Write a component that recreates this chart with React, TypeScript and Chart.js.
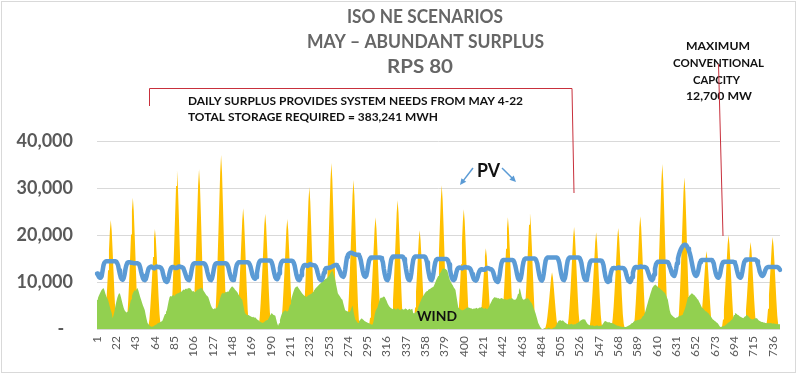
import { useEffect, useRef } from "react";
import { Chart, registerables } from "chart.js";

Chart.register(...registerables);

// Hour-of-month categories (May: 31 days x 24 h)
const HOURS: string[] = Array.from({ length: 744 }, (_, i) => String(i + 1));
const TICK_EVERY = 21;

const TITLE_LINES = ["ISO NE SCENARIOS", "MAY – ABUNDANT SURPLUS", "RPS 80"];
const NOTE_LINES = [
  "DAILY SURPLUS PROVIDES SYSTEM NEEDS FROM MAY 4-22",
  "TOTAL STORAGE REQUIRED = 383,241 MWH",
];
const CAP_LINES = ["MAXIMUM", "CONVENTIONAL", "CAPCITY", "12,700 MW"];

// PV output, MW (one row per day, 24 hours)
const PV_MW: number[] = [
  0,0,0,0,0,0,0,0,700,2300,5100,8600,12500,16700,20900,23200,20900,16700,12100,7400,3500,1200,200,0,
  0,0,0,0,0,0,0,0,800,2800,6100,10300,15100,20100,25100,27900,25100,20100,14500,8900,4200,1400,300,0,
  0,0,0,0,0,0,0,0,600,2100,4700,7900,11500,15300,19200,21300,19200,15300,11100,6800,3200,1100,200,0,
  0,0,0,0,0,0,0,0,1000,3400,7400,12500,18300,24300,30400,33800,30400,24300,17600,10800,5100,1700,300,0,
  0,0,0,0,0,0,0,0,1000,3400,7500,12600,18400,24500,30600,34000,30600,24500,17700,10900,5100,1700,300,0,
  0,0,0,0,0,0,0,0,1100,3700,8100,13700,20000,26600,33300,37000,33300,26600,19200,11800,5600,1900,400,0,
  0,0,0,0,0,0,0,0,800,2600,5700,9500,13900,18500,23100,25700,23100,18500,13400,8200,3900,1300,300,0,
  0,0,0,0,0,0,0,0,700,2500,5400,9100,13200,17600,22100,24500,22100,17600,12700,7800,3700,1200,200,0,
  0,0,0,0,0,0,0,0,700,2300,5100,8700,12600,16800,21100,23400,21100,16800,12200,7500,3500,1200,200,0,
  0,0,0,0,0,0,0,0,900,3000,6600,11200,16300,21700,27200,30200,27200,21700,15700,9700,4500,1500,300,0,
  0,0,0,0,0,0,0,0,1100,3500,7800,13100,19100,25400,31800,35300,31800,25400,18400,11300,5300,1800,400,0,
  0,0,0,0,0,0,0,0,1000,3200,7000,11700,17100,22800,28500,31700,28500,22800,16500,10100,4800,1600,300,0,
  0,0,0,0,0,0,0,0,700,2400,5200,8800,12900,17100,21400,23800,21400,17100,12400,7600,3600,1200,200,0,
  0,0,0,0,0,0,0,0,800,2700,6000,10100,14800,19700,24700,27400,24700,19700,14200,8800,4100,1400,300,0,
  0,0,0,0,0,0,0,0,600,2100,4600,7800,11300,15100,18900,21000,18900,15100,10900,6700,3200,1100,200,0,
  0,0,0,0,0,0,0,0,900,3100,6700,11300,16500,22000,27500,30600,27500,22000,15900,9800,4600,1500,300,0,
  0,0,0,0,0,0,0,0,800,2600,5600,9400,13800,18400,23000,25500,23000,18400,13300,8200,3800,1300,300,0,
  0,0,0,0,0,0,0,0,500,1700,3800,6400,9300,12400,15500,17200,15500,12400,8900,5500,2600,900,200,0,
  0,0,0,0,0,0,0,0,700,2400,5200,8800,12900,17100,21400,23800,21400,17100,12400,7600,3600,1200,200,0,
  0,0,0,0,0,0,0,0,700,2500,5400,9100,13300,17800,22200,24700,22200,17800,12800,7900,3700,1200,200,0,
  0,0,0,0,0,0,0,0,400,1200,2700,4500,6500,8700,10900,12100,10900,8700,6300,3900,1800,600,100,0,
  0,0,0,0,0,0,0,0,700,2200,4800,8000,11700,15600,19500,21700,19500,15600,11300,6900,3300,1100,200,0,
  0,0,0,0,0,0,0,0,600,2100,4500,7600,11100,14800,18500,20600,18500,14800,10700,6600,3100,1000,200,0,
  0,0,0,0,0,0,0,0,600,2200,4700,8000,11600,15500,19400,21500,19400,15500,11200,6900,3200,1100,200,0,
  0,0,0,0,0,0,0,0,700,2400,5300,8900,13000,17300,21600,24000,21600,17300,12500,7700,3600,1200,200,0,
  0,0,0,0,0,0,0,0,1100,3500,7700,13000,19000,25300,31600,35100,31600,25300,18300,11200,5300,1800,400,0,
  0,0,0,0,0,0,0,0,1000,3200,7100,12000,17400,23300,29100,32300,29100,23300,16800,10300,4800,1600,300,0,
  0,0,0,0,0,0,0,0,500,1700,3700,6100,9000,12000,14900,16600,14900,12000,8600,5300,2500,800,200,0,
  0,0,0,0,0,0,0,0,600,2000,4400,7400,10800,14400,18000,20000,18000,14400,10400,6400,3000,1000,200,0,
  0,0,0,0,0,0,0,0,600,1900,4100,6800,10000,13300,16700,18500,16700,13300,9600,5900,2800,900,200,0,
  0,0,0,0,0,0,0,0,600,2000,4300,7300,10600,14100,17600,19600,17600,14100,10200,6300,2900,1000,200,0,
];

// Wind output, MW
const WIND_MW: number[] = [
  6200,6600,7100,7500,7900,8300,8500,8700,8300,7600,7000,6600,6200,5500,4700,4000,3400,2300,2900,3800,4900,5800,6600,7200,
  7600,7500,6800,6000,5200,4500,4000,3700,3500,3600,3800,4600,5400,6300,7000,7600,8000,8300,8100,8500,8700,8200,7500,6800,
  6200,5600,5000,4500,4000,3000,2100,1300,1000,800,600,500,500,600,700,800,900,1000,1200,1300,1400,1500,1600,1700,
  2200,2700,3200,3600,4000,5000,6000,6800,7000,6900,7100,7300,7000,7200,7500,7400,7700,7600,7800,8000,7900,8200,8400,8300,
  8500,8600,8400,8800,8600,8700,8500,8200,8000,8100,7800,7900,8100,8400,8300,8600,8500,8800,8700,8400,8100,7800,7500,7200,
  7000,6800,6200,5600,5000,4600,4300,4200,4400,4300,4500,4600,5200,5900,6600,7200,7600,7800,7500,7700,7900,7800,8000,7900,
  8300,8600,8900,9100,8900,8700,8400,8200,8000,7700,7300,7000,6700,6400,6200,5200,4200,3400,3200,3000,2900,3000,2800,2700,
  2600,2500,2600,2400,2500,2300,2100,1900,1800,1600,1500,1400,1300,1400,1500,1700,1800,1900,2000,2400,2800,3100,3400,3200,
  3000,2900,2800,2000,1200,700,1200,1900,2600,3200,3500,3700,3900,4000,3800,3700,3900,4500,5200,6000,6800,7500,8100,8600,
  8900,9000,9100,8800,8500,8200,7900,7600,7400,7200,7000,6900,6800,7000,7200,7300,7400,7500,7600,7900,8200,8400,8700,8900,
  9100,9300,9500,9700,9900,10100,10300,10400,10600,10700,10800,11000,11200,11500,11900,12200,12500,11900,11200,10600,9600,8600,7600,7300,
  7000,6700,6400,6200,5400,4700,4000,3900,3800,3700,3600,3600,4000,4600,5000,3800,2800,2000,1800,1500,1300,1600,1900,2100,
  2300,2100,1900,1700,1600,1500,1400,1300,1200,1100,1000,900,1000,1800,3000,3800,4200,4500,5200,5900,6500,6700,6600,6800,
  6900,6800,6400,6000,5500,5100,4800,4600,4400,4300,4200,4400,4300,4100,4200,4400,4300,4100,4000,4200,4300,4100,4200,4400,
  4300,4200,4000,4200,4300,4100,4200,4300,3400,3300,3500,3600,3800,4300,4900,5400,5900,6400,6800,7100,7400,7700,7900,8100,
  8300,8400,8500,8600,8800,8900,9000,9400,9900,10400,10800,11200,11500,11800,12100,12500,12800,12900,12700,12800,12600,12500,11800,11000,
  10300,10000,9600,9300,8900,8600,8300,7000,5800,4600,4400,4200,4100,4000,4000,4100,4200,4300,4500,4600,4600,4500,4400,4400,
  4300,4200,4400,4300,4400,4500,4300,4400,4600,4500,4700,4600,4400,4300,4500,4400,4200,4300,4600,5000,5400,5800,6200,6500,
  6700,6800,6600,6700,6500,6600,6400,6500,6600,6500,6400,6300,6400,6200,6200,6300,6400,6500,6400,6600,6500,6300,6200,6200,
  6400,6800,7500,8200,8700,7800,6900,6400,6200,6300,6500,6400,6600,6500,6300,6000,5700,5500,5000,4400,3900,3400,2700,2000,
  1300,900,500,200,0,0,100,200,100,0,100,300,200,100,0,100,200,300,300,600,1000,1400,1700,1800,
  1900,1700,1800,1800,1600,1400,1300,1100,1000,1000,900,1000,1100,1000,900,1000,1000,1100,1200,1300,1500,1600,1800,1900,
  2000,2100,2000,2000,1600,1300,1000,900,800,800,700,800,700,600,700,700,800,700,600,700,700,700,1000,1300,
  1600,1700,1600,1500,1400,1500,1400,1300,1300,1200,1100,1000,900,800,700,700,600,600,500,500,400,500,400,400,
  500,600,700,800,900,1100,1300,1400,1600,1700,1800,1800,1900,1900,2000,2000,2200,2500,2800,3100,3400,4100,4800,5500,
  6200,6800,7500,8100,8700,9000,9300,9500,9300,9200,9000,8800,8700,8500,8300,8200,8000,7800,7600,7200,6700,6200,5100,4000,
  3300,3000,2800,2600,2500,2300,2400,2500,2600,2700,2800,2800,2900,3000,3500,4000,4600,5300,6100,6800,7000,7200,7400,7600,
  7500,7300,7200,6900,6700,6400,6200,5800,5400,5000,4600,4400,4200,4000,3800,3700,3500,3400,3100,2800,2600,2300,2000,1900,
  1700,1600,1400,1300,1000,700,400,500,500,600,600,700,900,1000,1200,1400,1500,1700,1900,2000,2500,3000,3400,3300,
  3200,3000,2900,2700,2600,2500,2400,2300,2500,2700,2900,3000,2800,2600,2400,2200,2100,2000,2100,2200,2300,2300,2300,2000,
  1800,1700,1600,1500,1500,1400,1400,1300,1300,1200,1300,1200,1200,1300,1200,1100,1200,1100,1100,1000,1100,1000,1000,1000,
];

// System load line, MW
const LOAD_MW: number[] = [
  11800,11500,11100,10900,10900,11200,12300,13500,14100,14300,14400,14400,14400,14400,14400,14400,14400,14400,14400,14400,14400,14300,14000,13500,
  12500,11600,10900,10600,10500,10800,11600,12800,13600,14100,14200,14200,14200,14100,14100,14100,14000,14000,14000,14000,14000,13900,13700,13100,
  12200,11400,10800,10500,10400,10600,11200,12100,12800,13100,13200,13300,13200,13000,12900,13000,13200,13300,13200,13200,13200,13100,12900,12500,
  11600,10900,10300,10100,10000,10300,11000,12000,12700,13100,13200,13200,13100,13000,13000,13100,13200,13300,13300,13200,13200,13100,12900,12400,
  11800,11200,10700,10500,10400,10700,11500,12600,13500,13900,14000,14000,14000,14000,14000,14000,14000,14000,14000,14000,14000,13900,13600,13100,
  12200,11400,10800,10500,10400,10700,11500,12600,13500,13900,14000,14000,14000,14000,14000,14000,14000,14000,14000,14000,14000,13900,13600,13100,
  12200,11400,10800,10500,10400,10700,11500,12800,13600,14000,14200,14200,14200,14200,14200,14200,14200,14200,14200,14200,14200,14100,13800,13300,
  12500,11600,11100,10800,10700,11000,11900,13100,14000,14400,14600,14600,14600,14600,14600,14600,14600,14600,14600,14600,14600,14500,14200,13600,
  12600,11700,11000,10700,10600,10900,11800,13000,13900,14300,14500,14500,14500,14500,14500,14500,14500,14500,14500,14500,14500,14400,14100,13500,
  12500,11500,10800,10500,10400,10700,11400,12400,13100,13500,13600,13600,13500,13400,13500,13700,13800,13700,13600,13600,13600,13500,13300,12800,
  12000,11300,10700,10500,10400,10600,11200,12000,12600,12900,13000,13000,13000,13100,13100,13200,13300,13400,13500,13600,13600,13500,13300,12800,
  12400,11800,11400,11200,11100,11500,12600,14100,15300,15800,16000,16100,16200,16200,16100,16000,15900,15900,15800,15800,15800,15700,15300,14600,
  13500,12400,11600,11200,11100,11400,12300,13600,14600,15000,15200,15200,15200,15200,15200,15200,15200,15200,15200,15200,15200,15100,14800,14200,
  12800,11700,10900,10500,10400,10800,11900,13500,14700,15200,15400,15400,15400,15400,15400,15400,15400,15400,15400,15400,15400,15300,14900,14200,
  12900,11800,10900,10500,10400,10800,11900,13500,14700,15200,15400,15400,15400,15400,15400,15400,15400,15400,15400,15400,15400,15300,14900,14200,
  12900,11800,10900,10500,10400,10800,11800,13200,14200,14700,14900,14900,14900,14900,14900,14900,14900,14900,14900,14900,14900,14800,14500,13800,
  12700,11600,10900,10500,10400,10600,11200,12100,12700,13000,13100,13100,13000,12900,13000,13100,13200,13200,13100,13100,13100,13000,12800,12400,
  11700,11100,10600,10400,10300,10500,11000,11800,12300,12600,12700,12700,12600,12600,12700,12800,13000,13000,12900,12800,12700,12700,12500,12100,
  11400,10700,10300,10100,10000,10400,11400,12900,14000,14500,14700,14700,14700,14700,14700,14700,14700,14700,14700,14700,14700,14600,14200,13500,
  12600,11600,10800,10500,10400,10800,11800,13300,14300,14800,15000,15000,15000,15000,15000,15000,15000,15000,15000,15000,15000,14900,14500,13900,
  12700,11600,10800,10400,10300,10700,11800,13300,14500,15000,15200,15200,15200,15200,15200,15200,15200,15200,15200,15200,15200,15100,14700,14000,
  12800,11700,10900,10500,10400,10800,11800,13400,14500,15000,15200,15200,15200,15200,15200,15200,15200,15200,15200,15200,15200,15100,14700,14000,
  12800,11700,10900,10500,10400,10700,11700,13000,14000,14400,14600,14600,14600,14600,14600,14600,14600,14600,14600,14600,14600,14500,14200,13600,
  12300,11200,10500,10100,10000,10200,10900,11900,12600,12900,13000,13000,12900,12900,13000,13100,13100,13000,13000,13000,13000,12900,12700,12300,
  11500,10800,10300,10100,10000,10300,11000,12000,12700,13100,13200,13200,13100,13100,13200,13300,13300,13200,13200,13200,13200,13100,12900,12400,
  11800,11200,10700,10500,10400,10700,11600,12800,13700,14100,14300,14300,14300,14300,14300,14300,14300,14300,14300,14300,14300,14200,13900,13300,
  12800,12100,11600,11400,11300,11800,12800,14000,15000,15800,16400,16900,17300,17600,17800,17900,17900,17800,17500,17100,16600,16000,15200,14200,
  13200,12300,11700,11400,11300,11600,12300,13400,14200,14600,14700,14700,14700,14700,14700,14700,14700,14700,14700,14700,14700,14600,14400,13900,
  12800,11900,11300,11000,10900,11200,11900,13000,13800,14200,14300,14300,14300,14300,14300,14300,14300,14300,14300,14300,14300,14200,14000,13500,
  12600,11800,11200,11000,10900,11200,12100,13300,14200,14600,14800,14800,14800,14800,14800,14800,14800,14800,14800,14800,14800,14700,14400,13800,
  13100,12200,11700,11400,11300,11500,11900,12500,12900,13100,13200,13200,13200,13200,13200,13200,13200,13200,13200,13200,13200,13100,12900,12600,
];

const FONT = "Lato, 'Open Sans', sans-serif";

// draw text fitted into a box: given cap height and target width
function boxText(
  ctx: CanvasRenderingContext2D,
  text: string,
  cx: number,
  baseline: number,
  width: number,
  capH: number,
  weight: string,
  color: string
) {
  const size = capH / 0.7165;
  ctx.save();
  ctx.font = `${weight} ${size}px ${FONT}`;
  const w = ctx.measureText(text).width;
  ctx.translate(cx, baseline);
  ctx.scale(width / w, 1);
  ctx.fillStyle = color;
  ctx.textAlign = "center";
  ctx.textBaseline = "alphabetic";
  ctx.fillText(text, 0, 0);
  ctx.restore();
}

function arrow(ctx: CanvasRenderingContext2D, x1: number, y1: number, x2: number, y2: number, color: string) {
  const a = Math.atan2(y2 - y1, x2 - x1);
  const hs = 7;
  ctx.save();
  ctx.strokeStyle = color;
  ctx.fillStyle = color;
  ctx.lineWidth = 1.5;
  ctx.beginPath();
  ctx.moveTo(x1, y1);
  ctx.lineTo(x2 - Math.cos(a) * hs * 0.6, y2 - Math.sin(a) * hs * 0.6);
  ctx.stroke();
  ctx.beginPath();
  ctx.moveTo(x2, y2);
  ctx.lineTo(x2 - hs * Math.cos(a - 0.45), y2 - hs * Math.sin(a - 0.45));
  ctx.lineTo(x2 - hs * Math.cos(a + 0.45), y2 - hs * Math.sin(a + 0.45));
  ctx.closePath();
  ctx.fill();
  ctx.restore();
}

const decorPlugin = {
  id: "decor",
  beforeDraw(chart: any) {
    const ctx = chart.ctx as CanvasRenderingContext2D;
    ctx.save();
    ctx.fillStyle = "#ffffff";
    ctx.fillRect(0, 0, chart.width, chart.height);
    ctx.restore();
  },
  afterDraw(chart: any) {
    const ctx = chart.ctx as CanvasRenderingContext2D;
    const titleColor = "#666666";
    boxText(ctx, TITLE_LINES[0], 425, 23, 156, 13.2, "bold", titleColor);
    boxText(ctx, TITLE_LINES[1], 425.5, 48, 237, 13.5, "bold", titleColor);
    boxText(ctx, TITLE_LINES[2], 420, 73, 66, 13.8, "bold", titleColor);

    const noteL = [
      { t: NOTE_LINES[0], x0: 188, x1: 523, b: 104.5 },
      { t: NOTE_LINES[1], x0: 188, x1: 438, b: 120.5 },
    ];
    noteL.forEach((n) => boxText(ctx, n.t, (n.x0 + n.x1) / 2, n.b, n.x1 - n.x0, 7.6, "bold", "#111111"));

    const capL = [
      { t: CAP_LINES[0], x0: 686, x1: 750, b: 50 },
      { t: CAP_LINES[1], x0: 673, x1: 764, b: 66.5 },
      { t: CAP_LINES[2], x0: 693, x1: 740, b: 83.5 },
      { t: CAP_LINES[3], x0: 686, x1: 752, b: 100 },
    ];
    capL.forEach((n) => boxText(ctx, n.t, (n.x0 + n.x1) / 2, n.b, n.x1 - n.x0, 8, "bold", "#111111"));

    boxText(ctx, "PV", 488.5, 177, 23, 14, "bold", "#111111");
    boxText(ctx, "WIND", 437, 321, 40, 10, "bold", "#111111");

    // arrows from PV label
    arrow(ctx, 473, 168, 460, 185, "#5b9bd5");
    arrow(ctx, 502, 168, 516, 182, "#5b9bd5");

    // red bracket & capacity line
    ctx.save();
    ctx.strokeStyle = "#c8303c";
    ctx.lineWidth = 1;
    ctx.beginPath();
    ctx.moveTo(149.5, 106);
    ctx.lineTo(149.5, 88.5);
    ctx.lineTo(572, 88.5);
    ctx.lineTo(574, 193);
    ctx.stroke();
    ctx.beginPath();
    ctx.moveTo(718.5, 64);
    ctx.lineTo(723, 236);
    ctx.stroke();
    ctx.restore();

    // outer frame
    ctx.save();
    ctx.strokeStyle = "#d9d9d9";
    ctx.lineWidth = 1;
    ctx.strokeRect(1.5, 1.5, 794, 371);
    ctx.restore();
  },
};

export default function App() {
  const canvasRef = useRef<HTMLCanvasElement | null>(null);

  useEffect(() => {
    document.body.style.margin = "0";
    const canvas = canvasRef.current;
    if (!canvas) return;
    const chart = new Chart(canvas, {
      type: "line",
      data: {
        labels: HOURS,
        datasets: [
          {
            label: "Load",
            data: LOAD_MW,
            borderColor: "#5b9bd5",
            borderWidth: 4.5,
            pointRadius: 0,
            fill: false,
            tension: 0,
            borderJoinStyle: "round",
            borderCapStyle: "round",
          },
          {
            label: "Wind",
            data: WIND_MW,
            borderWidth: 0,
            borderColor: "rgba(0,0,0,0)",
            backgroundColor: "#92d050",
            fill: "origin",
            pointRadius: 0,
          },
          {
            label: "PV",
            data: PV_MW,
            borderWidth: 0,
            borderColor: "rgba(0,0,0,0)",
            backgroundColor: "#ffc000",
            fill: "origin",
            pointRadius: 0,
          },
        ],
      },
      options: {
        responsive: false,
        animation: false,
        events: [],
        layout: { padding: { top: 141, right: 20, left: 0, bottom: 0 } },
        plugins: {
          legend: { display: false },
          title: { display: false },
          tooltip: { enabled: false },
        },
        scales: {
          x: {
            type: "category",
            grid: { display: false, drawTicks: false },
            border: { display: false },
            ticks: {
              autoSkip: false,
              maxRotation: 90,
              minRotation: 90,
              padding: 7,
              color: "#595959",
              font: { family: FONT, size: 12 },
              callback: (_v: any, i: number) => (i % TICK_EVERY === 0 ? HOURS[i] : null),
            },
            afterFit: (s: any) => {
              s.height = 46;
            },
          },
          y: {
            min: 0,
            max: 40000,
            grid: { color: "#d9d9d9", drawTicks: false },
            border: { display: false },
            ticks: {
              stepSize: 10000,
              padding: 24,
              color: "#595959",
              font: { family: FONT, size: 18, weight: "bold" },
              callback: (v: any) => (Number(v) === 0 ? "-  " : Number(v).toLocaleString("en-US")),
            },
            afterFit: (s: any) => {
              s.width = 97;
            },
          },
        },
      },
      plugins: [decorPlugin],
    } as any);
    return () => chart.destroy();
  }, []);

  return (
    <div style={{ width: 800, height: 375 }}>
      <canvas ref={canvasRef} width={800} height={375} style={{ display: "block" }} />
    </div>
  );
}
